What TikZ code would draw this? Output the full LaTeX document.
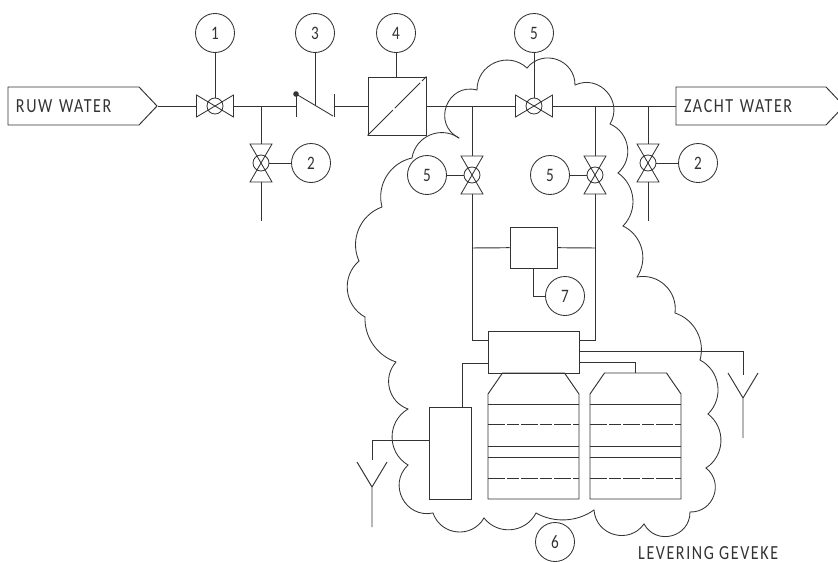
\documentclass[tikz,border=0pt]{standalone}
\usepackage{fontspec}
\setmainfont[FakeStretch=0.8,LetterSpace=8]{Carlito}
\usepackage{tikz}
\usetikzlibrary{calc}
\usetikzlibrary{shapes}
\usetikzlibrary{positioning}

\definecolor{inkgrey}{gray}{0.2}
\tikzset{
  pipe/.style={draw=inkgrey,line width=0.95pt},
  thinpipe/.style={draw=inkgrey,line width=0.85pt},
  tag/.style={circle,draw=inkgrey,line width=0.85pt,minimum size=39pt,inner sep=0pt,
    font=\fontsize{19}{19}\selectfont,text=inkgrey},
  valve/.style={circle,draw=inkgrey,line width=0.85pt,minimum size=16pt,inner sep=0pt},
  flag/.style={signal,signal to=east,signal pointer angle=93,draw=inkgrey,line width=0.95pt,
    minimum height=38pt,inner ysep=0pt,inner xsep=8pt,align=left,
    font=\fontsize{20}{20}\selectfont,text=inkgrey},
  unit/.style={rectangle,draw=inkgrey,line width=0.95pt,inner sep=0pt}
}

% valve lying along the pipe, ends #1a and #1b
\newcommand{\valveh}[2]{
  \node[valve] (#1) at (#2) {};
  \draw[thinpipe,shift={(#2)}] (-18.5,-11) -- (18.5,11) -- (18.5,-11) -- (-18.5,11) -- cycle;
  \coordinate (#1a) at ($(#1)+(-18.5,0)$);
  \coordinate (#1b) at ($(#1)+(18.5,0)$);
}
% same valve, standing
\newcommand{\valvev}[2]{
  \node[valve] (#1) at (#2) {};
  \draw[thinpipe,shift={(#2)}] (-11,-19) -- (11,19) -- (-11,19) -- (11,-19) -- cycle;
  \coordinate (#1a) at ($(#1)+(0,-19)$);
  \coordinate (#1b) at ($(#1)+(0,19)$);
}
% aerial with its foot on #2
\newcommand{\aerial}[2]{
  \coordinate (#1) at (#2);
  \draw[pipe,shift={(#2)}] (-15,0) -- (0,25) -- (15,0) (0,25) -- (0,65);
}
% tank, left edge at #1
\newcommand{\tank}[1]{
  \begin{scope}[shift={(#1,0)}]
    \draw[pipe] (0,394) -- (14.5,373) -- (76.5,373) -- (91,394) -- (91,499) -- (0,499) -- cycle;
    \foreach \y in {404,446,457}
      \draw[pipe] (0,\y) -- (91,\y);
    \foreach \y in {424,478}
      \draw[pipe,dash pattern=on 17pt off 2pt on 12pt off 2pt] (0,\y) -- (91,\y);
  \end{scope}
}

\begin{document}
\begin{tikzpicture}[x=1pt,y=-1pt]
  \useasboundingbox (0,0) rectangle (838,562);

  \node[flag,text width=115pt] (ruw) at (73.5,106) {RUW WATER};
  \node[flag,text width=134pt] (zacht) at (751,106) {ZACHT WATER};

  \valveh{vA}{215,106}
  \valvev{vB}{261,163}
  \valveh{vC}{534,106}
  \valvev{vD}{472,175}
  \valvev{vE}{595,175}
  \valvev{vF}{648,163}

  \node[tag] (tagA) at (215,33) {1};
  \node[tag] (tagB) at (311,163) {2};
  \node[tag] (tagC) at (315,33) {3};
  \node[tag] (tagD) at (396,33) {4};
  \node[tag] (tagE) at (534,33) {5};
  \node[tag] (tagF) at (427,175) {5};
  \node[tag] (tagG) at (550,175) {5};
  \node[tag] (tagH) at (698,163) {2};
  \node[tag] (tagI) at (555,542) {6};
  \node[tag] (tagJ) at (565,296) {7};

  % filter and check valve
  \node[unit,minimum width=58pt,minimum height=58pt] (filter) at (397,106) {};
  \draw[thinpipe,dash pattern=on 36pt off 2.5pt] (filter.south west) -- (filter.north east);
  \coordinate (chkL) at (296,106);
  \coordinate (chkR) at (334,106);
  \coordinate (chkM) at (315,105);
  \draw[thinpipe] (296,96) -- (296,117) (334,94) -- (334,117);
  \draw[thinpipe] (296,94) -- (333,116);
  \fill[inkgrey] (296,94) circle (2.8pt);

  % boxes
  \node[unit,minimum width=47pt,minimum height=41pt] (ctrl) at (533.5,247.5) {};
  \node[unit,minimum width=91pt,minimum height=42pt] (main) at (533.5,352) {};
  \node[unit,minimum width=42pt,minimum height=92pt] (side) at (450,453) {};
  \tank{488}
  \tank{590}

  % pipes
  \draw[pipe] (ruw.east) -- (vAa);
  \draw[pipe] (vAb) -- (chkL);
  \draw[pipe] (chkR) -- (filter);
  \draw[pipe] (filter) -- (vCa);
  \draw[pipe] (vCb) -- (zacht.west);
  \draw[pipe] (261,106) -- (vBa);
  \draw[pipe] (vBb) -- (261,221);
  \draw[pipe] (648,106) -- (vFa);
  \draw[pipe] (vFb) -- (648,221);
  \draw[pipe] (472,106) -- (vDa);
  \draw[pipe] (595,106) -- (vEa);
  \draw[pipe] (vDb) |- (main.west |- 0,340);
  \draw[pipe] (vEb) |- (main.east |- 0,340);
  \draw[pipe] (472,248) -- (ctrl);
  \draw[pipe] (595,248) -- (ctrl);
  \draw[pipe] (ctrl.south) |- (tagJ);
  \draw[pipe] (main.west |- 0,363) -| (side.north -| 462,0);
  \draw[pipe] (main.east |- 0,362) -| (635,373);

  % leads to the tags
  \draw[pipe] (tagA) -- (vA);
  \draw[pipe] (tagB) -- (vB);
  \draw[pipe] (tagC) -- (chkM);
  \draw[pipe] (tagD) -- (tagD |- filter.north);
  \draw[pipe] (tagE) -- (vC);
  \draw[pipe] (tagF) -- (vD);
  \draw[pipe] (tagG) -- (vE);
  \draw[pipe] (tagH) -- (vF);

  % aerials
  \aerial{aerR}{743,373}
  \aerial{aerL}{372,462}
  \draw[pipe] (main.east |- 0,351) -| (743,375);
  \draw[pipe] (side.west |- 0,440) -| (372,460);

  % cloud: each lobe is an arc through start, crest and end
  \foreach \ax/\ay/\mx/\my/\bx/\by in {
    412/158/437/132/459/138, 459/138/443/115/477/90,
    477/90/503/59/527/68, 527/68/550/57/575/85,
    575/85/617/103/610/124, 610/124/628/150/618/173,
    618/173/633/200/623/226, 623/226/644/257/637/277,
    637/277/668/288/675/313, 675/313/703/343/700/360,
    700/360/718/387/708/414, 708/414/721/440/706/468,
    706/468/717/487/690/512, 690/512/667/537/644/524,
    644/524/623/537/594/510, 594/510/563/520/536/513,
    536/513/508/530/484/518, 484/518/458/532/433/513,
    433/513/398/490/408/465, 408/465/392/437/408/409,
    408/409/388/383/396/362, 396/362/363/330/365/317,
    365/317/347/287/359/261, 359/261/354/240/382/207,
    382/207/378/190/412/158}
  {
    \pgfmathsetmacro{\chord}{veclen(\bx-\ax,\by-\ay)}
    \pgfmathsetmacro{\sag}{abs((\bx-\ax)*(\my-\ay)-(\by-\ay)*(\mx-\ax))/\chord}
    \pgfmathsetmacro{\bendang}{2*atan(2*\sag/\chord)}
    \pgfmathsetmacro{\loose}{tan(\bendang/2)/(1.5*sin(\bendang))/0.3915}
    \draw[thinpipe,line cap=round] (\ax,\ay) to[bend left=\bendang,looseness=\loose] (\bx,\by);
  }

  \node[font=\fontsize{20}{20}\selectfont,text=inkgrey,anchor=south west,inner sep=0pt,text depth=0pt] (levering) at (638,560) {LEVERING GEVEKE};
\end{tikzpicture}
\end{document}
